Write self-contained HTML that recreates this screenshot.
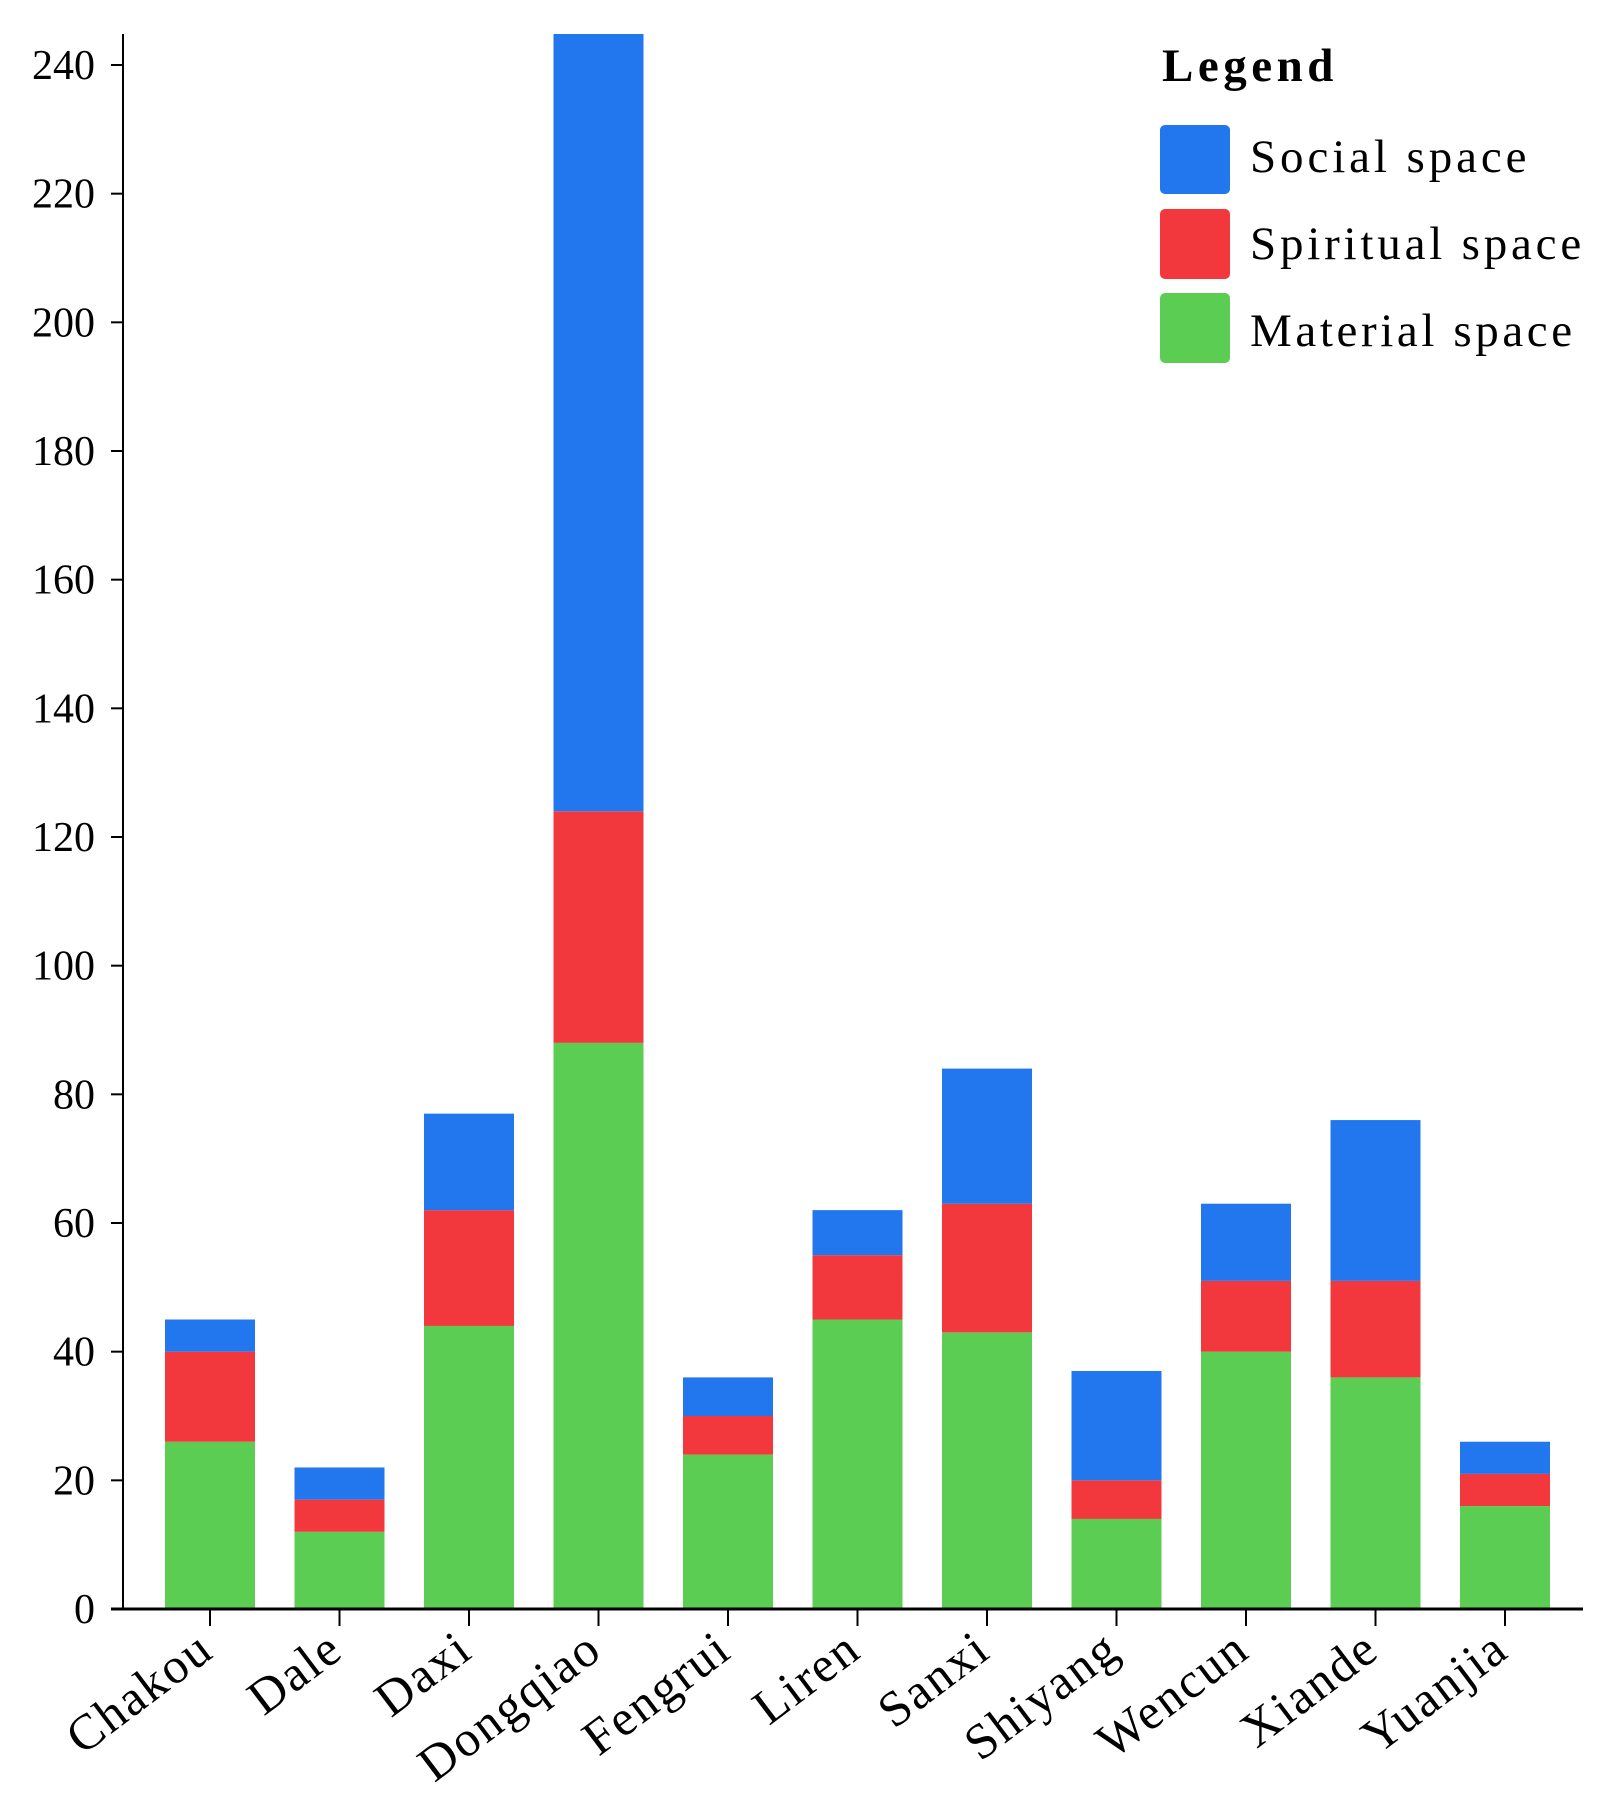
<!DOCTYPE html>
<html><head><meta charset="utf-8"><style>
html,body{margin:0;padding:0;background:#fff;}
svg{display:block;font-family:"Liberation Serif",serif;}
</style></head><body>
<svg id="chart" width="1609" height="1798">
<defs><clipPath id="plotclip"><rect x="123" y="34" width="1470" height="1580"/></clipPath></defs>
<g id="bars" clip-path="url(#plotclip)"></g>
<g id="axes"></g>
<g id="legend">
<text x="1162" y="81" font-size="47" font-weight="bold" letter-spacing="4.5">Legend</text>
<rect x="1160" y="125" width="70" height="69" rx="5" fill="#2277ee"/>
<text x="1250" y="172" font-size="47" letter-spacing="3.9">Social space</text>
<rect x="1160" y="209" width="70" height="70" rx="5" fill="#f2383d"/>
<text x="1250" y="259" font-size="47" letter-spacing="3.8">Spiritual space</text>
<rect x="1160" y="293" width="70" height="70" rx="5" fill="#5ccd53"/>
<text x="1250" y="346" font-size="47" letter-spacing="3.6">Material space</text>
</g>
</svg>
<script>
const categories=["Chakou","Dale","Daxi","Dongqiao","Fengrui","Liren","Sanxi","Shiyang","Wencun","Xiande","Yuanjia"];
const material=[26,12,44,88,24,45,43,14,40,36,16];
const spiritual=[14,5,18,36,6,10,20,6,11,15,5];
const social=[5,5,15,121,6,7,21,17,12,25,5];
const yTicks=[0,20,40,60,80,100,120,140,160,180,200,220,240];
const NS="http://www.w3.org/2000/svg";
const x0=123,y0=1609,pxPerUnit=(1609-65)/240,firstC=210,step=129.5,bw=90;
function y(v){return y0-v*pxPerUnit;}
function xc(i){return firstC+i*step;}
function mk(tag,attrs,parent){const e=document.createElementNS(NS,tag);for(const k in attrs)e.setAttribute(k,attrs[k]);parent.appendChild(e);return e;}
const bars=document.getElementById('bars'),axes=document.getElementById('axes');
const series=[[material,"#5ccd53","material"],[spiritual,"#f2383d","spiritual"],[social,"#2277ee","social"]];
categories.forEach((c,i)=>{
  let base=0;
  series.forEach(([arr,col,nm])=>{
    const r=mk('rect',{x:xc(i)-bw/2,y:y(base+arr[i]),width:bw,height:arr[i]*pxPerUnit,fill:col},bars);
    
    
    base+=arr[i];
  });
  const t=mk('line',{x1:xc(i),x2:xc(i),y1:y0,y2:y0+17,stroke:"#000","stroke-width":2},axes);
  
  
  const l=mk('text',{x:xc(i)+6,y:y0+46,"font-size":50,"letter-spacing":2,"text-anchor":"end",transform:`rotate(-37 ${xc(i)+6} ${y0+46})`},axes);
  l.textContent=c;
  
  
});
const ya=mk('line',{x1:x0,x2:x0,y1:34,y2:y0+1,stroke:"#000","stroke-width":2},axes);


const xa=mk('line',{x1:x0-12,x2:1583,y1:y0,y2:y0,stroke:"#000","stroke-width":3},axes);


yTicks.forEach(v=>{
  const t=mk('line',{x1:x0-12,x2:x0,y1:y(v),y2:y(v),stroke:"#000","stroke-width":2},axes);
  
  
  const l=mk('text',{x:x0-28,y:y(v)+14,"font-size":42,"text-anchor":"end"},axes);
  l.textContent=v;
  
  
});
</script>
</body></html>
